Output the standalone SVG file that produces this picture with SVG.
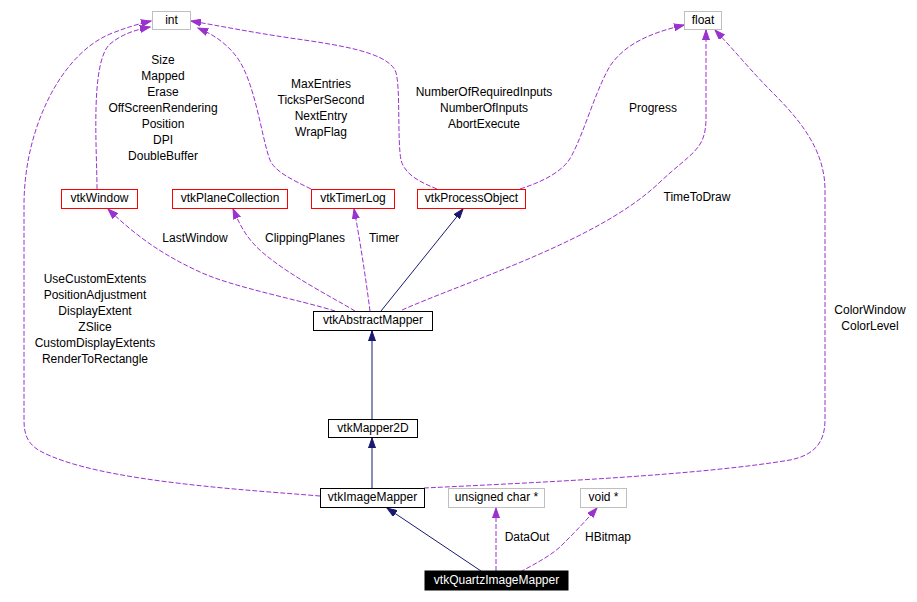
<svg xmlns="http://www.w3.org/2000/svg" width="917" height="602" viewBox="0 0 917 602">
<style>
text{font-family:"Liberation Sans",Arial,sans-serif;font-size:12px;fill:#000;text-anchor:middle}
.box rect{fill:#fff;stroke:#000;stroke-width:1}
.red rect{stroke:#ff0000}
.gray rect{stroke:#bfbfbf}
.blk rect{fill:#000}
.blk text{fill:#fff}
.u{fill:none;stroke:#9a32cd;stroke-width:1;stroke-dasharray:5,2}
.i{fill:none;stroke:#191970;stroke-width:1}
</style>
<defs>
<marker id="ap" markerWidth="11" markerHeight="8" refX="10" refY="4" orient="auto" markerUnits="userSpaceOnUse"><path d="M0,0.5 L10,4 L0,7.5 Z" fill="#9a32cd" stroke="#9a32cd"/></marker>
<marker id="an" markerWidth="11" markerHeight="8" refX="10" refY="4" orient="auto" markerUnits="userSpaceOnUse"><path d="M0,0.5 L10,4 L0,7.5 Z" fill="#191970" stroke="#191970"/></marker>
</defs>
<rect width="917" height="602" fill="#fff"/>
<g id="connectors">
<path class="u" d="M97,189 C97,150 90,62 110,44 C122,34 135,30 150,27" marker-end="url(#ap)"/>
<path class="u" d="M320,496 C250,490 100,482 42,452 C26,444 24,432 24,420 L24,205 C24,130 60,55 110,34 C125,28 138,24 151,21" marker-end="url(#ap)"/>
<path class="u" d="M311,189 C293,180 275,172 270,160 C262,140 255,80 236,56 C225,42 212,34 198,28" marker-end="url(#ap)"/>
<path class="u" d="M437,189 C420,182 405,175 401,160 C397,140 401,82 395,70 C385,52 340,45 290,38 C250,32 220,26 191,21" marker-end="url(#ap)"/>
<path class="u" d="M520,189 C545,181 565,170 572,155 C585,130 595,92 610,66 C625,44 650,33 684,25" marker-end="url(#ap)"/>
<path class="u" d="M402,310 C470,280 600,240 660,182 C692,152 706,150 706,118 L706,30" marker-end="url(#ap)"/>
<path class="u" d="M424,488 C550,482 700,475 790,460 C815,455 825,442 825,420 L825,190 C825,150 800,120 772,92 C752,72 734,50 715,30" marker-end="url(#ap)"/>
<path class="u" d="M335,311 C300,300 232,287 200,272 C165,256 138,238 108,209" marker-end="url(#ap)"/>
<path class="u" d="M355,311 C330,296 290,276 262,252 C246,238 240,225 233,209" marker-end="url(#ap)"/>
<path class="u" d="M370,311 C366,280 360,240 354,209" marker-end="url(#ap)"/>
<path class="i" d="M381,311 L463,209" marker-end="url(#an)"/>
<path class="i" d="M372,419 L372,331" marker-end="url(#an)"/>
<path class="i" d="M372,488 L372,438" marker-end="url(#an)"/>
<path class="i" d="M481,571 L387,508" marker-end="url(#an)"/>
<path class="u" d="M496,571 L496,508" marker-end="url(#ap)"/>
<path class="u" d="M520,572 C535,564 550,556 560,547 C572,535 582,525 597,508" marker-end="url(#ap)"/>
<text x="163" y="64">Size</text>
<text x="163" y="80">Mapped</text>
<text x="163" y="96">Erase</text>
<text x="163" y="112">OffScreenRendering</text>
<text x="163" y="128">Position</text>
<text x="163" y="144">DPI</text>
<text x="163" y="160">DoubleBuffer</text>
<text x="95" y="283">UseCustomExtents</text>
<text x="95" y="299">PositionAdjustment</text>
<text x="95" y="315">DisplayExtent</text>
<text x="95" y="331">ZSlice</text>
<text x="95" y="347">CustomDisplayExtents</text>
<text x="95" y="363">RenderToRectangle</text>
<text x="321" y="88">MaxEntries</text>
<text x="321" y="104">TicksPerSecond</text>
<text x="321" y="120">NextEntry</text>
<text x="321" y="136">WrapFlag</text>
<text x="484" y="96">NumberOfRequiredInputs</text>
<text x="484" y="112">NumberOfInputs</text>
<text x="484" y="128">AbortExecute</text>
<text x="653" y="112">Progress</text>
<text x="697" y="201">TimeToDraw</text>
<text x="870" y="314">ColorWindow</text>
<text x="870" y="330">ColorLevel</text>
<text x="195" y="242">LastWindow</text>
<text x="305" y="242">ClippingPlanes</text>
<text x="384" y="242">Timer</text>
<text x="527" y="541">DataOut</text>
<text x="608" y="541">HBitmap</text>
</g>
<g id="int" class="box gray"><rect x="152.5" y="11.5" width="38" height="18"/><text x="171.5" y="23.5">int</text></g>
<g id="float" class="box gray"><rect x="684.5" y="11.5" width="37" height="18"/><text x="703" y="23.5">float</text></g>
<g id="vtkWindow" class="box red"><rect x="61.5" y="189.5" width="76" height="19"/><text x="99.5" y="201.5">vtkWindow</text></g>
<g id="vtkPlaneCollection" class="box red"><rect x="172.5" y="189.5" width="115" height="19"/><text x="230" y="201.5">vtkPlaneCollection</text></g>
<g id="vtkTimerLog" class="box red"><rect x="311.5" y="189.5" width="83" height="19"/><text x="353" y="201.5">vtkTimerLog</text></g>
<g id="vtkProcessObject" class="box red"><rect x="417.5" y="189.5" width="108" height="19"/><text x="471.5" y="201.5">vtkProcessObject</text></g>
<g id="vtkAbstractMapper" class="box"><rect x="313.5" y="311.5" width="119" height="19"/><text x="373" y="323.5">vtkAbstractMapper</text></g>
<g id="vtkMapper2D" class="box"><rect x="328.5" y="419.5" width="89" height="18"/><text x="373" y="431.5">vtkMapper2D</text></g>
<g id="vtkImageMapper" class="box"><rect x="320.5" y="488.5" width="104" height="19"/><text x="372.5" y="500.5">vtkImageMapper</text></g>
<g id="unsignedchar" class="box gray"><rect x="448.5" y="488.5" width="96" height="19"/><text x="496.5" y="500.5">unsigned char *</text></g>
<g id="void" class="box gray"><rect x="580.5" y="488.5" width="46" height="19"/><text x="603.5" y="500.5">void *</text></g>
<g id="vtkQuartzImageMapper" class="box blk"><rect x="425" y="571" width="143" height="19"/><text x="496.5" y="583.5">vtkQuartzImageMapper</text></g>
</svg>
